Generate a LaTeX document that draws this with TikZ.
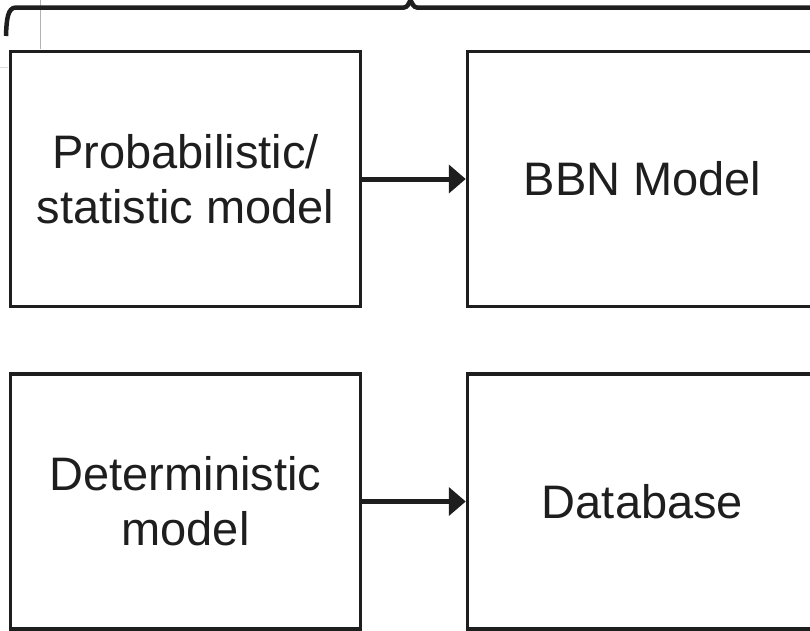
\documentclass[tikz,border=0pt]{standalone}
\usepackage{fontspec}
\setmainfont{Liberation Sans}
\usepackage{tikz}
\usetikzlibrary{arrows.meta,positioning}
\definecolor{InkGray}{HTML}{1E1E1E}

\begin{document}
\begin{tikzpicture}[x=1pt,y=-1pt,>=Latex,node distance=64pt and 103.5pt]
\tikzstyle{block}=[rectangle,draw=InkGray,line width=3.5pt,minimum width=350pt,minimum height=255pt,align=center,text=InkGray,font=\fontsize{47}{55}\selectfont]
\tikzstyle{flow}=[-{Triangle[length=17pt,width=28pt]},line width=5pt,draw=InkGray]
\useasboundingbox (0,0) rectangle (810,630);
\clip (0,0) rectangle (810,630);
% guide line left over at the top
\draw[black!30,line width=0.6pt] (40,0) -- (40,49);
\draw[black!15,line width=0.6pt] (0,67) -- (8,67);
% the four boxes
\node[block] (prob) at (185.5,179) {Probabilistic/\\statistic model};
\node[block,right=of prob] (bbn) {BBN Model};
\node[block,below=of prob] (det) {Deterministic\\model};
\node[block,right=of det] (db) {Database};
\draw[flow] (prob) -- (bbn);
\draw[flow] (det) -- (db);
% brace over the top row
\draw[InkGray,line width=4.5pt] (6,36) .. controls (6.5,20) and (7.5,7.5) .. (16,7.5) -- (404,7.5)
  .. controls (407.5,7.5) and (409,3) .. (410.5,0) .. controls (412,3) and (413.5,7.5) .. (417,7.5) -- (830,7.5);
\end{tikzpicture}
\end{document}
